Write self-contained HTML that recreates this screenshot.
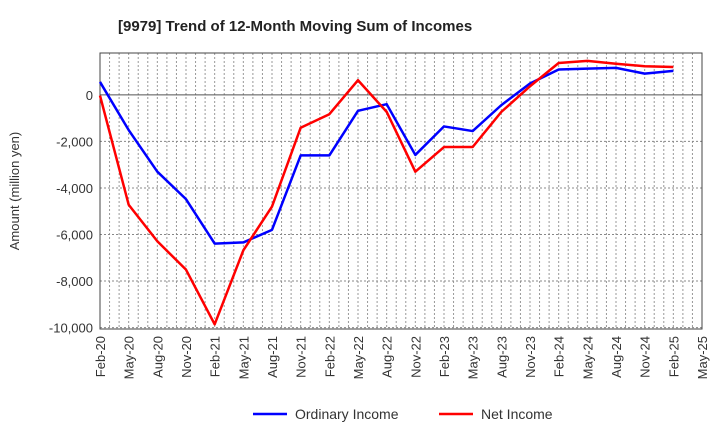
<!DOCTYPE html>
<html><head><meta charset="utf-8"><style>
body{margin:0;background:#fff;font-family:"Liberation Sans",sans-serif}
svg{display:block}
</style></head><body>
<svg id="c" width="720" height="440">
<text x="118" y="31" font-size="15" font-weight="bold" fill="#222">[9979]  Trend of 12-Month Moving Sum of Incomes</text>
<text transform="translate(19,191) rotate(-90)" text-anchor="middle" font-size="13" fill="#333">Amount (million yen)</text>
<g id="grid"></g><g id="axes"></g><g id="series"></g>
<g>
<g><line x1="253" y1="414" x2="287" y2="414" stroke="#0000ff" stroke-width="2.5"/><text x="295" y="419" font-size="14" fill="#333">Ordinary Income</text></g>
<g><line x1="439" y1="414" x2="473" y2="414" stroke="#ff0000" stroke-width="2.5"/><text x="481" y="419" font-size="14" fill="#333">Net Income</text></g>
</g>
</svg>
<script>
const tickLabels=["Feb-20","May-20","Aug-20","Nov-20","Feb-21","May-21","Aug-21","Nov-21","Feb-22","May-22","Aug-22","Nov-22","Feb-23","May-23","Aug-23","Nov-23","Feb-24","May-24","Aug-24","Nov-24","Feb-25","May-25"];
const yTicks=[0,-2000,-4000,-6000,-8000,-10000];
const ordinary=[557,-1510,-3300,-4480,-6390,-6340,-5800,-2600,-2600,-685,-400,-2580,-1355,-1555,-440,490,1090,1130,1160,915,1030];
const net=[-30,-4720,-6290,-7510,-9860,-6680,-4800,-1410,-830,630,-730,-3300,-2240,-2240,-730,370,1370,1460,1340,1230,1200];
const NS="http://www.w3.org/2000/svg";
const L=100,R=702,T=53,B=329;
const yMin=-10060,yMax=1800;
const y=v=>B-(v-yMin)/(yMax-yMin)*(B-T);
const x=i=>L+i*(R-L)/(tickLabels.length-1);
function mk(t,a,p){const e=document.createElementNS(NS,t);for(const k in a)e.setAttribute(k,a[k]);p.appendChild(e);return e;}
const grid=document.getElementById('grid'),axes=document.getElementById('axes'),ser=document.getElementById('series');
for(let m=1;m<(tickLabels.length-1)*3;m++){const xx=L+m*(R-L)/((tickLabels.length-1)*3);
const g=mk('line',{x1:xx,x2:xx,y1:T,y2:B,stroke:'#999','stroke-dasharray':'2,2','stroke-width':1},grid);

}
yTicks.forEach(v=>{const yy=y(v);
const g=mk('line',{x1:L,x2:R,y1:yy,y2:yy,stroke:v===0?'#555':'#888','stroke-dasharray':v===0?'':'2,2','stroke-width':1},grid);


const t=mk('text',{x:L-7,y:yy+5,'text-anchor':'end','font-size':13,fill:'#333'},axes);t.textContent=v.toLocaleString('en-US');

});
const fr=mk('rect',{x:L,y:T,width:R-L,height:B-T,fill:'none',stroke:'#444','stroke-width':1},axes);


tickLabels.forEach((s,i)=>{const t=mk('text',{transform:`translate(${x(i)+5},${B+7}) rotate(-90)`,'text-anchor':'end','font-size':13,fill:'#333'},axes);t.textContent=s;

});
[[ordinary,'#0000ff','ordinary-income-line'],[net,'#ff0000','net-income-line']].forEach(([d,c,n])=>{
const p=mk('polyline',{points:d.map((v,i)=>x(i)+','+y(v)).join(' '),fill:'none',stroke:c,'stroke-width':2.5,'stroke-linejoin':'round'},ser);

});
</script>
</body></html>
